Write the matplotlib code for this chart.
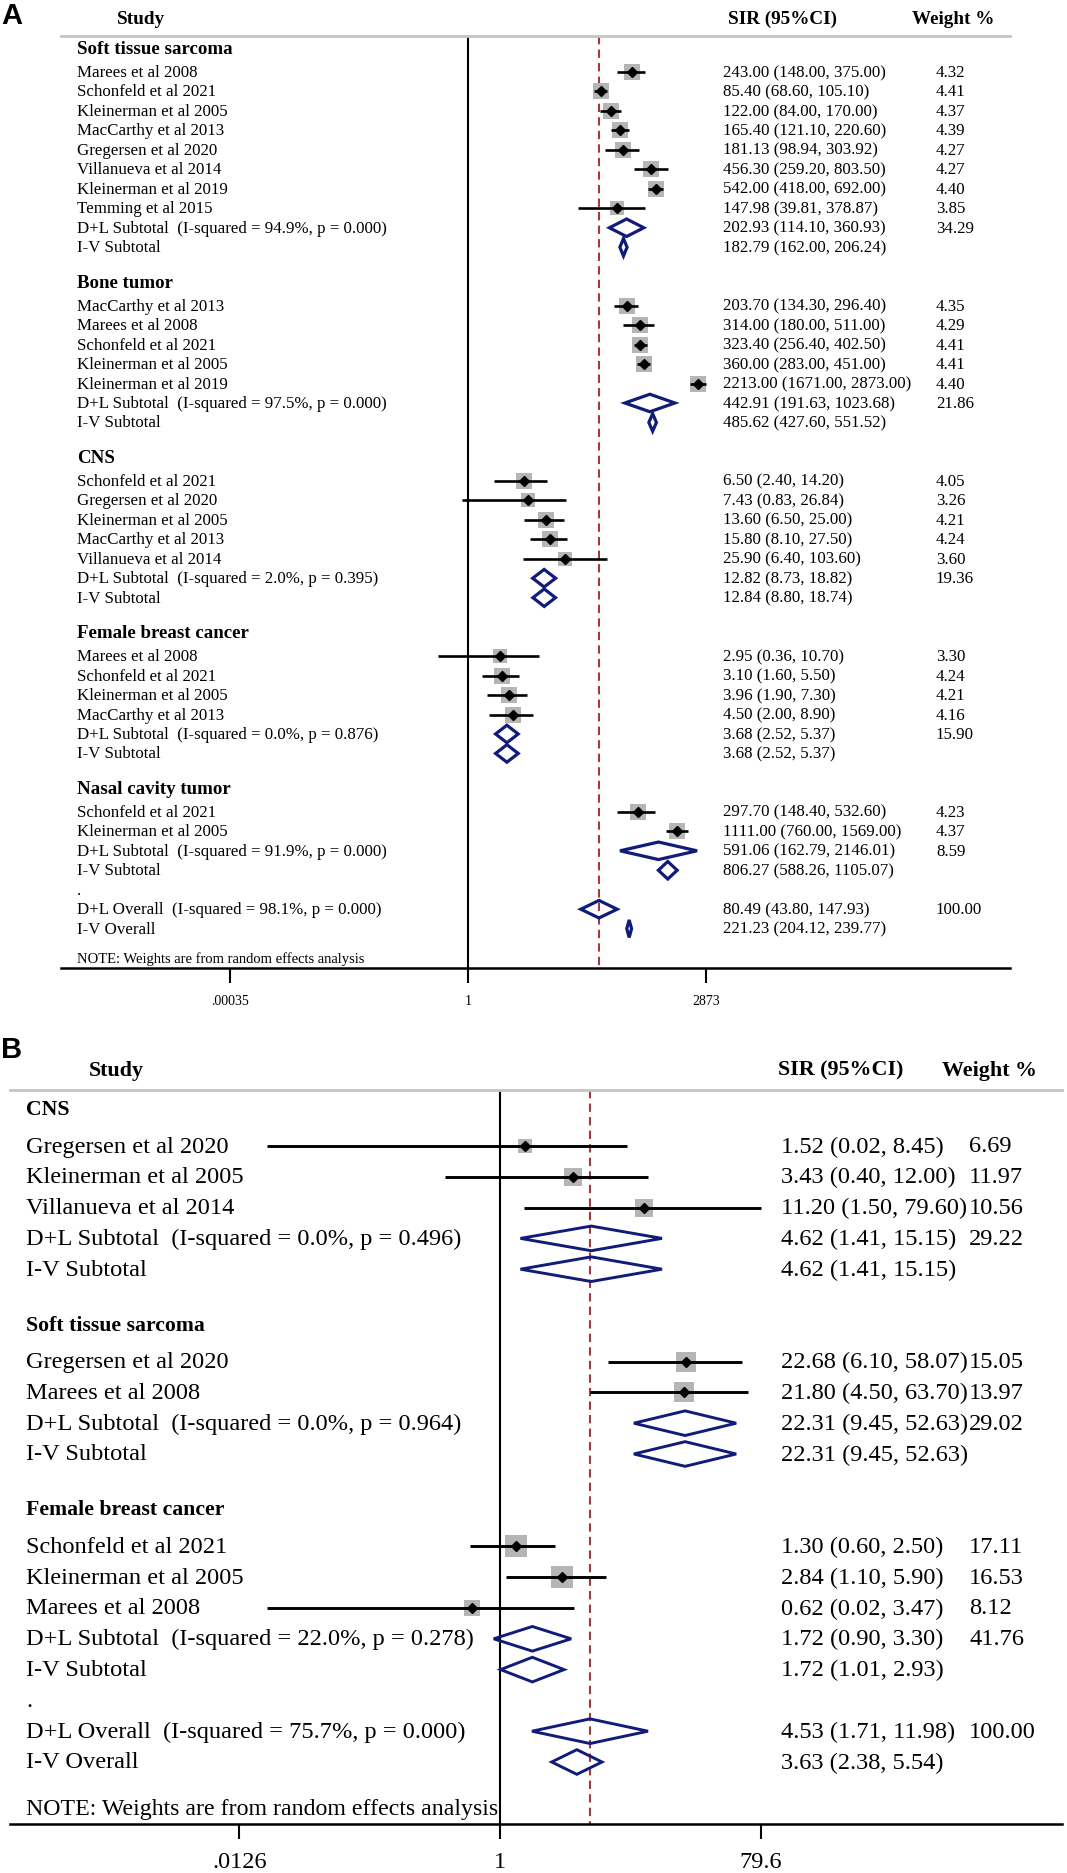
import numpy as np
import matplotlib
matplotlib.use("Agg")
import matplotlib.pyplot as plt
import matplotlib.transforms as mtransforms
from matplotlib.patches import Polygon
from matplotlib.ticker import NullLocator

plt.rcParams['font.family'] = ['Liberation Serif', 'DejaVu Serif']

W, H = 1067, 1874
NAVY = '#101c78'
BOX = '#b5b5b5'
RED = '#a33a3f'

# ---------------- panel A data ----------------
a_groups = ["Soft tissue sarcoma", "Bone tumor", "CNS", "Female breast cancer", "Nasal cavity tumor"]
a_studies = [
    ["Marees et al 2008", "Schonfeld et al 2021", "Kleinerman et al 2005", "MacCarthy et al 2013",
     "Gregersen et al 2020", "Villanueva et al 2014", "Kleinerman et al 2019", "Temming et al 2015"],
    ["MacCarthy et al 2013", "Marees et al 2008", "Schonfeld et al 2021", "Kleinerman et al 2005",
     "Kleinerman et al 2019"],
    ["Schonfeld et al 2021", "Gregersen et al 2020", "Kleinerman et al 2005", "MacCarthy et al 2013",
     "Villanueva et al 2014"],
    ["Marees et al 2008", "Schonfeld et al 2021", "Kleinerman et al 2005", "MacCarthy et al 2013"],
    ["Schonfeld et al 2021", "Kleinerman et al 2005"],
]
a_sir = [[243.00, 85.40, 122.00, 165.40, 181.13, 456.30, 542.00, 147.98],
         [203.70, 314.00, 323.40, 360.00, 2213.00],
         [6.50, 7.43, 13.60, 15.80, 25.90],
         [2.95, 3.10, 3.96, 4.50],
         [297.70, 1111.00]]
a_lo = [[148.00, 68.60, 84.00, 121.10, 98.94, 259.20, 418.00, 39.81],
        [134.30, 180.00, 256.40, 283.00, 1671.00],
        [2.40, 0.83, 6.50, 8.10, 6.40],
        [0.36, 1.60, 1.90, 2.00],
        [148.40, 760.00]]
a_hi = [[375.00, 105.10, 170.00, 220.60, 303.92, 803.50, 692.00, 378.87],
        [296.40, 511.00, 402.50, 451.00, 2873.00],
        [14.20, 26.84, 25.00, 27.50, 103.60],
        [10.70, 5.50, 7.30, 8.90],
        [532.60, 1569.00]]
a_wt = [[4.32, 4.41, 4.37, 4.39, 4.27, 4.27, 4.40, 3.85],
        [4.35, 4.29, 4.41, 4.41, 4.40],
        [4.05, 3.26, 4.21, 4.24, 3.60],
        [3.30, 4.24, 4.21, 4.16],
        [4.23, 4.37]]
a_dl = [(202.93, 114.10, 360.93), (442.91, 191.63, 1023.68), (12.82, 8.73, 18.82),
        (3.68, 2.52, 5.37), (591.06, 162.79, 2146.01)]
a_dl_wt = [34.29, 21.86, 19.36, 15.90, 8.59]
a_dl_i2 = [94.9, 97.5, 2.0, 0.0, 91.9]
a_dl_p = [0.000, 0.000, 0.395, 0.876, 0.000]
a_iv = [(182.79, 162.00, 206.24), (485.62, 427.60, 551.52), (12.84, 8.80, 18.74),
        (3.68, 2.52, 5.37), (806.27, 588.26, 1105.07)]
a_ov_dl = (80.49, 43.80, 147.93)
a_ov_i2, a_ov_p = 98.1, 0.000
a_ov_iv = (221.23, 204.12, 239.77)
a_ticks = [0.00035, 1, 2873]
a_ticklabels = ['.00035', '1', '2873']

# ---------------- panel B data ----------------
b_groups = ["CNS", "Soft tissue sarcoma", "Female breast cancer"]
b_studies = [
    ["Gregersen et al 2020", "Kleinerman et al 2005", "Villanueva et al 2014"],
    ["Gregersen et al 2020", "Marees et al 2008"],
    ["Schonfeld et al 2021", "Kleinerman et al 2005", "Marees et al 2008"],
]
b_sir = [[1.52, 3.43, 11.20], [22.68, 21.80], [1.30, 2.84, 0.62]]
b_lo = [[0.02, 0.40, 1.50], [6.10, 4.50], [0.60, 1.10, 0.02]]
b_hi = [[8.45, 12.00, 79.60], [58.07, 63.70], [2.50, 5.90, 3.47]]
b_wt = [[6.69, 11.97, 10.56], [15.05, 13.97], [17.11, 16.53, 8.12]]
b_dl = [(4.62, 1.41, 15.15), (22.31, 9.45, 52.63), (1.72, 0.90, 3.30)]
b_dl_wt = [29.22, 29.02, 41.76]
b_dl_i2 = [0.0, 0.0, 22.0]
b_dl_p = [0.496, 0.964, 0.278]
b_iv = [(4.62, 1.41, 15.15), (22.31, 9.45, 52.63), (1.72, 1.01, 2.93)]
b_ov_dl = (4.53, 1.71, 11.98)
b_ov_i2, b_ov_p = 75.7, 0.000
b_ov_iv = (3.63, 2.38, 5.54)
b_ticks = [0.0126, 1, 79.6]
b_ticklabels = ['.0126', '1', '79.6']

# layout of each panel, in pixels of the final picture
style_a = dict(top_px=0, bot_px=1030, origin=468, scale=29.85, row0=73, unit=19.47,
               name_x=77, val_x=723, wt_x=936, study_x=117, sir_x=728, wh_x=912, hdr_row=-2.75,
               line_row=-1.85, gl_x0=61, gl_x1=1010, fs=12.2, grp_fs=13.6, hdr_fs=13.8,
               note_fs=10.5, tick_fs=10, tick_len=10.8, tick_pad=8, ci_lw=1.9, dlw=2.3,
               dh=0.45, box_k=7.6, dot_ms=5.5)
style_b = dict(top_px=1030, bot_px=1874, origin=500, scale=59.6, row0=1147, unit=30.8,
               name_x=26, val_x=781, wt_x=969, study_x=89, sir_x=778, wh_x=942, hdr_row=-2.47,
               line_row=-1.82, gl_x0=10, gl_x1=1062, fs=17.6, grp_fs=15.7, hdr_fs=15.8,
               note_fs=17.2, tick_fs=17.5, tick_len=10.8, tick_pad=9, ci_lw=2.1, dlw=2.1,
               dh=0.4, box_k=5.4, dot_ms=5.5)


def fmt(e, l, h):
    return f"{e:.2f} ({l:.2f}, {h:.2f})"


def draw_panel(fig, st, groups, studies, sir, lo, hi, wt, dl, dl_wt, dl_i2, dl_p, iv,
               ov_dl, ov_i2, ov_p, ov_iv, ticks, ticklabels):
    ax = fig.add_axes([0, 1 - st['bot_px'] / H, 1, (st['bot_px'] - st['top_px']) / H])
    ax.set_xscale('log')
    px2x = lambda px: np.exp((px - st['origin']) / st['scale'])
    ax.set_xlim(px2x(0), px2x(W))
    ax.set_ylim((st['bot_px'] - st['row0']) / st['unit'], (st['top_px'] - st['row0']) / st['unit'])
    ax.patch.set_alpha(0)
    tr = mtransforms.blended_transform_factory(ax.transAxes, ax.transData)

    def txt(px, r, s, **kw):
        ax.text(px / W, r, s, transform=tr, va='center', ha='left', clip_on=False, **kw)

    def diamond(r, e, l, h):
        ax.add_patch(Polygon([(l, r), (e, r - st['dh']), (h, r), (e, r + st['dh'])], closed=True,
                             fill=False, edgecolor=NAVY, lw=st['dlw'], joinstyle='miter', zorder=5))

    # column headers
    txt(st['study_x'], st['hdr_row'], "Study", fontsize=st['hdr_fs'], fontweight='bold')
    txt(st['sir_x'], st['hdr_row'], "SIR (95%CI)", fontsize=st['hdr_fs'], fontweight='bold')
    txt(st['wh_x'], st['hdr_row'], "Weight %", fontsize=st['hdr_fs'], fontweight='bold')
    ax.axhline(st['line_row'], xmin=st['gl_x0'] / W, xmax=st['gl_x1'] / W, color='#c4c4c4', lw=2.0)

    row = 0
    for g in range(len(groups)):
        txt(st['name_x'], row - 1.2, groups[g], fontsize=st['grp_fs'], fontweight='bold')
        for i, name in enumerate(studies[g]):
            r = row + i
            ax.hlines(r, lo[g][i], hi[g][i], color='black', lw=st['ci_lw'], zorder=3)
            side = st['box_k'] * np.sqrt(wt[g][i]) * 0.72
            ax.scatter([sir[g][i]], [r], s=side ** 2, marker='s', color=BOX, linewidths=0, zorder=2)
            ax.plot([sir[g][i]], [r], marker='D', ms=st['dot_ms'], color='black', zorder=4)
            txt(st['name_x'], r, name, fontsize=st['fs'])
            txt(st['val_x'], r, fmt(sir[g][i], lo[g][i], hi[g][i]), fontsize=st['fs'])
            txt(st['wt_x'], r, f"{wt[g][i]:.2f}", fontsize=st['fs'])
        r = row + len(studies[g])
        diamond(r, *dl[g])
        txt(st['name_x'], r, f"D+L Subtotal  (I-squared = {dl_i2[g]:.1f}%, p = {dl_p[g]:.3f})", fontsize=st['fs'])
        txt(st['val_x'], r, fmt(*dl[g]), fontsize=st['fs'])
        txt(st['wt_x'], r, f"{dl_wt[g]:.2f}", fontsize=st['fs'])
        r += 1
        diamond(r, *iv[g])
        txt(st['name_x'], r, "I-V Subtotal", fontsize=st['fs'])
        txt(st['val_x'], r, fmt(*iv[g]), fontsize=st['fs'])
        row = r + 3

    # overall rows
    txt(st['name_x'], row - 2, ".", fontsize=st['fs'])
    diamond(row - 1, *ov_dl)
    txt(st['name_x'], row - 1, f"D+L Overall  (I-squared = {ov_i2:.1f}%, p = {ov_p:.3f})", fontsize=st['fs'])
    txt(st['val_x'], row - 1, fmt(*ov_dl), fontsize=st['fs'])
    txt(st['wt_x'], row - 1, "100.00", fontsize=st['fs'])
    diamond(row, *ov_iv)
    txt(st['name_x'], row, "I-V Overall", fontsize=st['fs'])
    txt(st['val_x'], row, fmt(*ov_iv), fontsize=st['fs'])
    txt(st['name_x'], row + 1.5, "NOTE: Weights are from random effects analysis", fontsize=st['note_fs'])

    axis_row = row + 2
    ax.vlines(1, st['line_row'], axis_row, color='black', lw=1.5, zorder=1)
    ax.vlines(ov_dl[0], st['line_row'], axis_row, color=RED, lw=1.5, linestyles=(0, (4, 2.5)), zorder=1)

    for s in ['top', 'left', 'right']:
        ax.spines[s].set_visible(False)
    ax.spines['bottom'].set_position(('data', axis_row))
    ax.spines['bottom'].set_bounds(px2x(st['gl_x0']), px2x(st['gl_x1']))
    ax.spines['bottom'].set_linewidth(1.8)
    ax.set_xticks(ticks, ticklabels)
    ax.xaxis.set_minor_locator(NullLocator())
    ax.tick_params(axis='x', direction='out', length=st['tick_len'], width=1.5,
                   pad=st['tick_pad'], labelsize=st['tick_fs'])
    ax.set_yticks([])
    return ax


fig = plt.figure(figsize=(W / 100, H / 100), dpi=100)
draw_panel(fig, style_a, a_groups, a_studies, a_sir, a_lo, a_hi, a_wt, a_dl, a_dl_wt, a_dl_i2,
           a_dl_p, a_iv, a_ov_dl, a_ov_i2, a_ov_p, a_ov_iv, a_ticks, a_ticklabels)
draw_panel(fig, style_b, b_groups, b_studies, b_sir, b_lo, b_hi, b_wt, b_dl, b_dl_wt, b_dl_i2,
           b_dl_p, b_iv, b_ov_dl, b_ov_i2, b_ov_p, b_ov_iv, b_ticks, b_ticklabels)

fig.text(1 / W, 1 - 2 / H, "A", family=['Liberation Sans', 'DejaVu Sans'], fontweight='bold',
         fontsize=21, va='top', ha='left')
fig.text(1 / W, 1 - 1036 / H, "B", family=['Liberation Sans', 'DejaVu Sans'], fontweight='bold',
         fontsize=21, va='top', ha='left')

fig.savefig("out.png", dpi=100)
